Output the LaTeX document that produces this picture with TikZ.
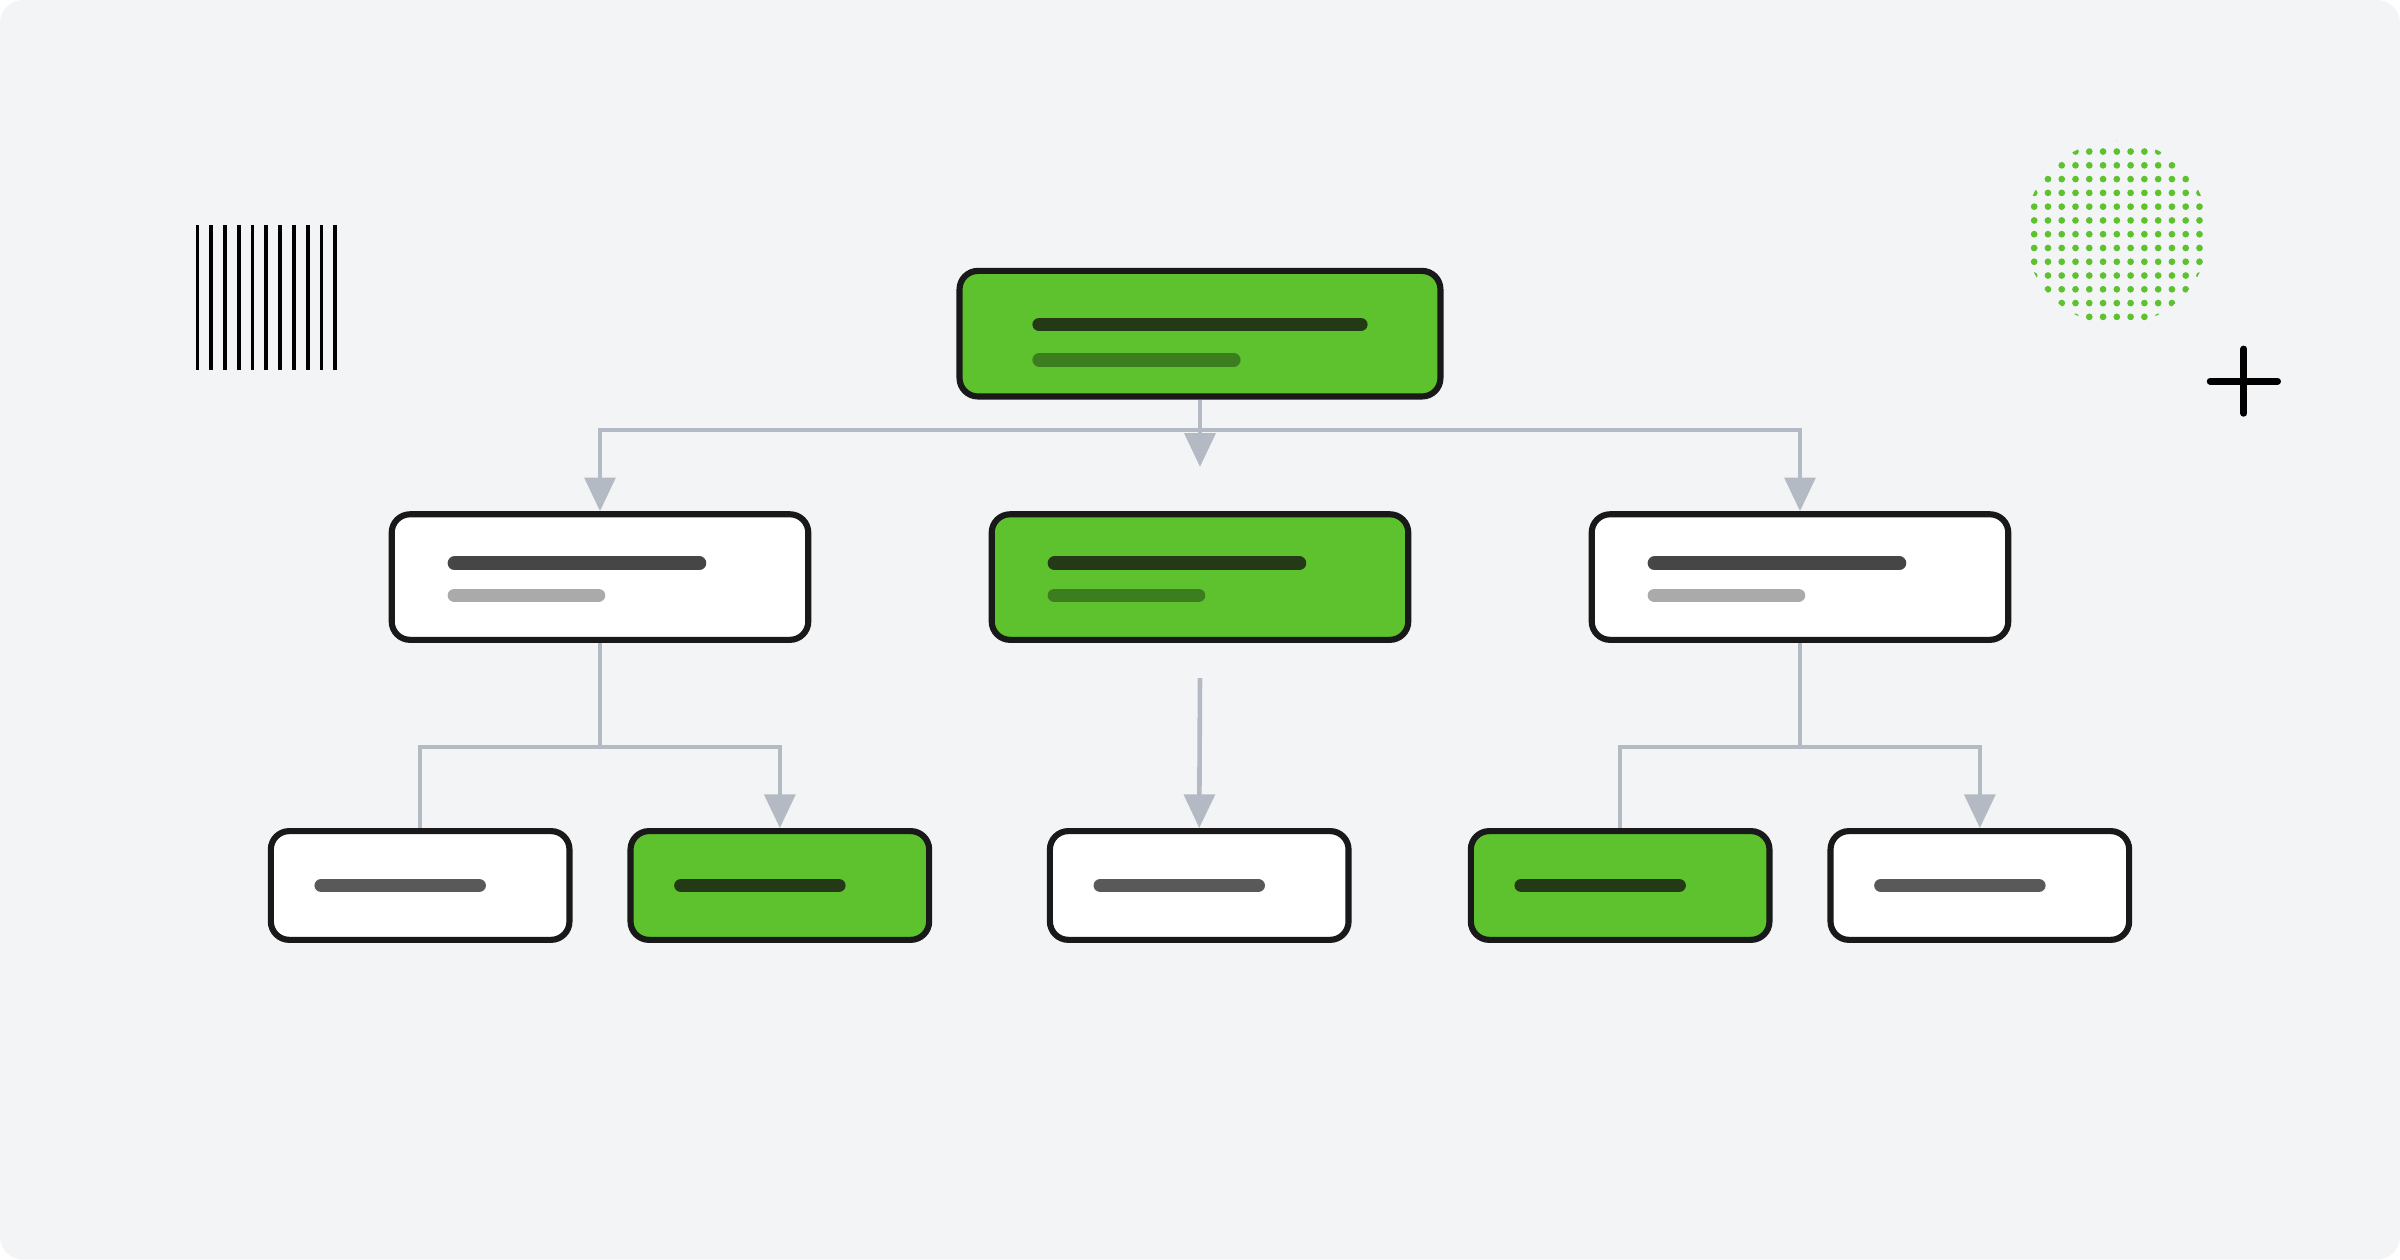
\documentclass[tikz,border=0pt]{standalone}
\usetikzlibrary{arrows.meta}
\definecolor{bggray}{HTML}{F3F4F6}
\definecolor{leafgreen}{HTML}{5DC22E}
\definecolor{linkgray}{HTML}{B4BAC4}
\definecolor{bardark}{HTML}{464646}
\definecolor{barlight}{HTML}{AAAAAA}
\definecolor{bargreen}{HTML}{243A17}
\definecolor{bargreenlt}{HTML}{3C7D20}
\begin{document}
\begin{tikzpicture}[x=0.01cm,y=-0.01cm,
    box/.style={draw=black!90,line width=0.04cm,rounded corners=0.12cm,inner sep=0pt},
    big/.style={box,minimum width=2.72cm,minimum height=0.82cm},
    small/.style={box,minimum width=1.95cm,minimum height=0.71cm},
    green/.style={fill=leafgreen},
    plain/.style={fill=white},
    bar/.style={line width=0.09cm,line cap=round},
    link/.style={draw=linkgray,line width=0.03cm},
    arrow/.style={link,-{Triangle[length=0.22cm,width=0.2cm]}}]
    \fill[bggray,rounded corners=0.15cm] (0,0) rectangle (1568,823);

    % stripes
    \foreach \x in {129,138,...,221}
        \draw[line width=0.025cm] (\x,147) -- (\x,242);

    % dots
    \begin{scope}
        \clip (1383,152) circle (60);
        \foreach \x in {1320,1329,...,1446}
            \foreach \y in {90,99,...,215}
                \fill[leafgreen] (\x,\y) circle (2.2);
    \end{scope}

    % plus
    \draw[line width=0.045cm,line cap=round] (1444,249) -- (1488,249) (1466,228) -- (1466,270);

    % nodes
    \node[box,green,minimum width=3.14cm,minimum height=0.82cm] (root) at (784,218) {};
    \node[big,plain] (left) at (392,377) {};
    \node[big,green] (mid) at (784,377) {};
    \node[big,plain] (right) at (1176,377) {};
    \node[small,plain] (la) at (274.5,578.5) {};
    \node[small,green] (lb) at (509.5,578.5) {};
    \node[small,plain] (mb) at (783.5,578.5) {};
    \node[small,green] (ra) at (1058.5,578.5) {};
    \node[small,plain] (rb) at (1293.5,578.5) {};

    % bars
    \draw[bar,bargreen] (679,212) -- (889,212);
    \draw[bar,bargreenlt] (679,235) -- (806,235);
    \foreach \n in {left,right} {
        \draw[bar,bardark] ([xshift=0.43cm,yshift=0.09cm]\n.west) -- ++(160,0);
        \draw[bar,barlight] ([xshift=0.43cm,yshift=-0.12cm]\n.west) -- ++(94,0);
    }
    \draw[bar,bargreen] ([xshift=0.43cm,yshift=0.09cm]mid.west) -- ++(160,0);
    \draw[bar,bargreenlt] ([xshift=0.43cm,yshift=-0.12cm]mid.west) -- ++(94,0);
    \draw[bar,black!65] ([xshift=0.35cm]la.west) -- ++(103,0);
    \draw[bar,bargreen] ([xshift=0.35cm]lb.west) -- ++(103,0);
    \draw[bar,black!65] ([xshift=0.35cm]mb.west) -- ++(103,0);
    \draw[bar,bargreen] ([xshift=0.35cm]ra.west) -- ++(103,0);
    \draw[bar,black!65] ([xshift=0.35cm]rb.west) -- ++(103,0);

    % links
    \draw[link] (root.south) -- ++(0,20) coordinate (j0);
    \draw[arrow] (j0) -| (left.north);
    \draw[arrow] (j0) -| (right.north);
    \draw[arrow] (j0) -- ++(0,24);
    \coordinate (m0) at (784,443);
    \draw[arrow] (m0) -- (mb.north);
    \draw[link] (left.south) -- ++(0,68) coordinate (jl);
    \draw[link] (jl) -| (la.north);
    \draw[arrow] (jl) -| (lb.north);
    \draw[link] (right.south) -- ++(0,68) coordinate (jr);
    \draw[link] (jr) -| (ra.north);
    \draw[arrow] (jr) -| (rb.north);
\end{tikzpicture}
\end{document}
